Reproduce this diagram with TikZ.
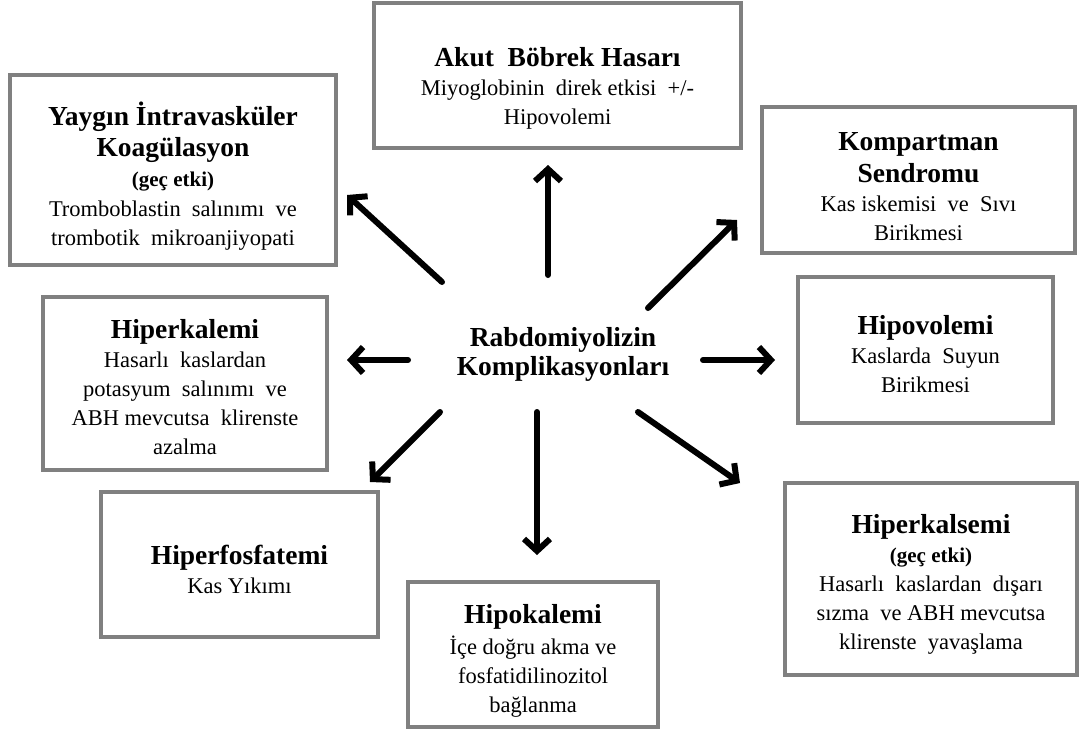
\documentclass[tikz,border=0pt]{standalone}
\usepackage{fontspec}
\setmainfont{Liberation Serif}
\usetikzlibrary{arrows.meta}
\definecolor{boxgray}{RGB}{128,128,128}
\newcommand{\hd}{\fontsize{27.5}{32}\selectfont\bfseries}
\newcommand{\sub}{\fontsize{21}{27}\selectfont\bfseries}
\begin{document}
\begin{tikzpicture}[x=1pt,y=-1pt,
    box/.style={draw=boxgray, line width=4pt, fill=white},
    txt/.style={align=center, inner sep=0pt, font=\fontsize{22.5}{29}\selectfont},
    bigarrow/.style={line width=6pt, line cap=round, -{Straight Barb[length=12pt,width=26pt]}}]
    \useasboundingbox (0,0) rectangle (1079,731);
    % boxes
    \node[box, minimum width=367pt, minimum height=145pt] (akut) at (557.5,75.5) {};
    \node[box, minimum width=326pt, minimum height=190pt] (yaygin) at (173,170) {};
    \node[box, minimum width=313pt, minimum height=146pt] (kompart) at (918.5,180) {};
    \node[box, minimum width=284pt, minimum height=173pt] (hiperkal) at (185,383.5) {};
    \node[box, minimum width=255pt, minimum height=146pt] (hipovol) at (925.5,350) {};
    \node[box, minimum width=277pt, minimum height=145pt] (hiperfos) at (239.5,564.5) {};
    \node[box, minimum width=250pt, minimum height=145pt] (hipokal) at (533,654.5) {};
    \node[box, minimum width=292pt, minimum height=192pt] (hiperkals) at (931,579) {};
    % texts
    \node[txt] (akut-t) at ([yshift=-13pt]akut.center)
      {{\hd Akut~ Böbrek Hasarı}\\ Miyoglobinin~ direk etkisi~ +/-\\ Hipovolemi};
    \node[txt] (yaygin-t) at ([yshift=-6pt]yaygin.center)
      {{\hd Yaygın İntravasküler}\\[2pt] {\hd Koagülasyon}\\[1pt] {\sub (geç etki)}\\[1pt] Tromboblastin~ salınımı~ ve\\ trombotik~ mikroanjiyopati};
    \node[txt] (kompart-t) at ([yshift=-7pt]kompart.center)
      {{\hd Kompartman}\\[3pt] {\hd Sendromu}\\ Kas iskemisi~ ve~ Sıvı\\ Birikmesi};
    \node[txt] (hiperkal-t) at ([yshift=-4pt]hiperkal.center)
      {{\hd Hiperkalemi}\\ Hasarlı~ kaslardan\\ potasyum~ salınımı~ ve\\ ABH mevcutsa~ klirenste\\ azalma};
    \node[txt] (hipovol-t) at ([yshift=-4pt]hipovol.center)
      {{\hd Hipovolemi}\\ Kaslarda~ Suyun\\ Birikmesi};
    \node[txt] (hiperfos-t) at ([yshift=-5pt]hiperfos.center)
      {{\hd Hiperfosfatemi}\\ Kas Yıkımı};
    \node[txt] (hipokal-t) at ([yshift=-6pt]hipokal.center)
      {{\hd Hipokalemi}\\[2pt] İçe doğru akma ve\\ fosfatidilinozitol\\ bağlanma};
    \node[txt] (hiperkals-t) at ([yshift=-5pt]hiperkals.center)
      {{\hd Hiperkalsemi}\\ {\sub (geç etki)}\\ Hasarlı~ kaslardan~ dışarı\\ sızma~ ve ABH mevcutsa\\ klirenste~ yavaşlama};
    \node[txt, font=\hd] (rabdo) at (563,354) {Rabdomiyolizin\\[-3pt] Komplikasyonları};
    % arrow ends
    \coordinate (s1) at (548,275);  \coordinate (e1) at (548,165);
    \coordinate (s2) at (442,282);  \coordinate (e2) at (347,195);
    \coordinate (s3) at (648,308);  \coordinate (e3) at (737,220);
    \coordinate (s4) at (408,360);  \coordinate (e4) at (347,360);
    \coordinate (s5) at (703,360);  \coordinate (e5) at (775,360);
    \coordinate (s6) at (440,412);  \coordinate (e6) at (370,482);
    \coordinate (s7) at (537,412);  \coordinate (e7) at (537,555);
    \coordinate (s8) at (638,412);  \coordinate (e8) at (740,483);
    \draw[bigarrow] (s1) -- (e1);
    \draw[bigarrow] (s2) -- (e2);
    \draw[bigarrow] (s3) -- (e3);
    \draw[bigarrow] (s4) -- (e4);
    \draw[bigarrow] (s5) -- (e5);
    \draw[bigarrow] (s6) -- (e6);
    \draw[bigarrow] (s7) -- (e7);
    \draw[bigarrow] (s8) -- (e8);
\end{tikzpicture}
\end{document}
